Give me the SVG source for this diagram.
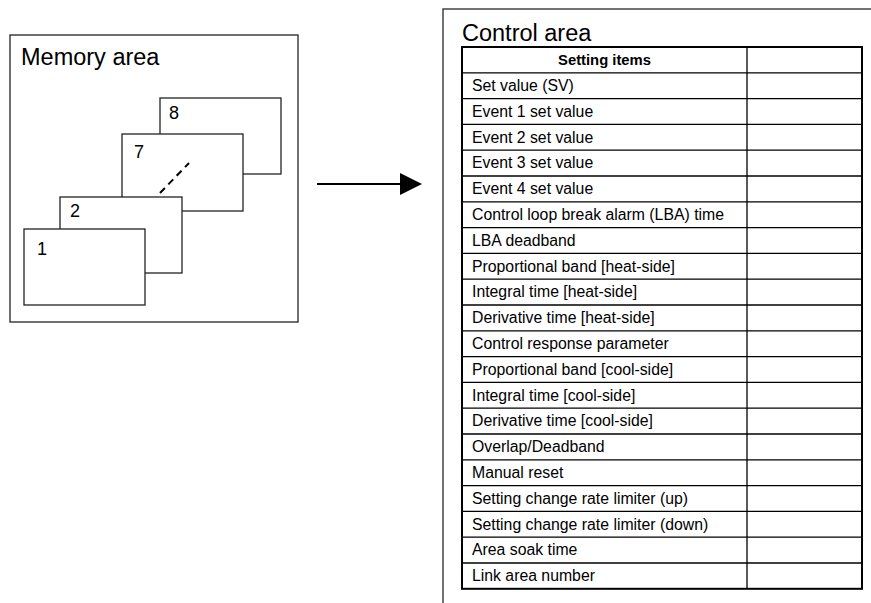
<svg xmlns="http://www.w3.org/2000/svg" width="871" height="603" viewBox="0 0 871 603">
<defs>
<style>
text{font-family:"Liberation Sans",Arial,sans-serif;fill:#000}
.title{font-size:23.5px}
.num{font-size:18px}
.item{font-size:15.8px}
.hdr{font-size:14.8px;font-weight:bold}
.page{fill:#fff;stroke:#222;stroke-width:1.3}
.grid{stroke:#000;stroke-width:1.3;fill:none}
</style>
<marker id="ah" viewBox="0 0 22 22" refX="0" refY="11" markerWidth="22" markerHeight="22" markerUnits="userSpaceOnUse" orient="auto">
<path d="M0,0 L22,11 L0,22 Z" fill="#000"/>
</marker>
</defs>
<rect width="871" height="603" fill="#fff"/>

<g id="memory-area">
<rect x="10" y="35" width="288" height="287" fill="#fff" stroke="#222" stroke-width="1.3"/>
<text class="title" x="21" y="65">Memory area</text>
</g>
<g id="page-8">
<rect class="page" x="160" y="98" width="121" height="76"/>
<text class="num" x="169" y="119">8</text>
</g>
<g id="page-7">
<rect class="page" x="122" y="134" width="121" height="77"/>
<text class="num" x="134" y="158">7</text>
<line x1="160" y1="193" x2="189" y2="163" stroke="#000" stroke-width="2" stroke-dasharray="7,5"/>
</g>
<g id="page-2">
<rect class="page" x="60" y="197" width="122" height="76"/>
<text class="num" x="70" y="217">2</text>
</g>
<g id="page-1">
<rect class="page" x="24" y="229" width="121" height="76"/>
<text class="num" x="37" y="255">1</text>
</g>

<g id="connectors">
<line x1="317" y1="184" x2="400" y2="184" stroke="#000" stroke-width="2" marker-end="url(#ah)"/>
</g>

<g id="control-area">
<polyline points="871,9 443,9 443,603" fill="none" stroke="#444" stroke-width="1.5"/>
<text class="title" x="462" y="41">Control area</text>
<g id="table">
<rect x="462" y="47" width="400" height="541.8" fill="#fff" stroke="#000" stroke-width="2"/>
<line class="grid" x1="747" y1="47" x2="747" y2="588.8"/>
<g class="grid">
<line x1="462" y1="72.8" x2="862" y2="72.8"/>
<line x1="462" y1="98.6" x2="862" y2="98.6"/>
<line x1="462" y1="124.4" x2="862" y2="124.4"/>
<line x1="462" y1="150.2" x2="862" y2="150.2"/>
<line x1="462" y1="176" x2="862" y2="176"/>
<line x1="462" y1="201.8" x2="862" y2="201.8"/>
<line x1="462" y1="227.6" x2="862" y2="227.6"/>
<line x1="462" y1="253.4" x2="862" y2="253.4"/>
<line x1="462" y1="279.2" x2="862" y2="279.2"/>
<line x1="462" y1="305" x2="862" y2="305"/>
<line x1="462" y1="330.8" x2="862" y2="330.8"/>
<line x1="462" y1="356.6" x2="862" y2="356.6"/>
<line x1="462" y1="382.4" x2="862" y2="382.4"/>
<line x1="462" y1="408.2" x2="862" y2="408.2"/>
<line x1="462" y1="434" x2="862" y2="434"/>
<line x1="462" y1="459.8" x2="862" y2="459.8"/>
<line x1="462" y1="485.6" x2="862" y2="485.6"/>
<line x1="462" y1="511.4" x2="862" y2="511.4"/>
<line x1="462" y1="537.2" x2="862" y2="537.2"/>
<line x1="462" y1="563" x2="862" y2="563"/>
</g>
<text class="hdr" x="604.5" y="65" text-anchor="middle">Setting items</text>
<text class="item" x="472" y="91">Set value (SV)</text>
<text class="item" x="472" y="116.8">Event 1 set value</text>
<text class="item" x="472" y="142.6">Event 2 set value</text>
<text class="item" x="472" y="168.4">Event 3 set value</text>
<text class="item" x="472" y="194.2">Event 4 set value</text>
<text class="item" x="472" y="220">Control loop break alarm (LBA) time</text>
<text class="item" x="472" y="245.8">LBA deadband</text>
<text class="item" x="472" y="271.6">Proportional band [heat-side]</text>
<text class="item" x="472" y="297.4">Integral time [heat-side]</text>
<text class="item" x="472" y="323.2">Derivative time [heat-side]</text>
<text class="item" x="472" y="349">Control response parameter</text>
<text class="item" x="472" y="374.8">Proportional band [cool-side]</text>
<text class="item" x="472" y="400.6">Integral time [cool-side]</text>
<text class="item" x="472" y="426.4">Derivative time [cool-side]</text>
<text class="item" x="472" y="452.2">Overlap/Deadband</text>
<text class="item" x="472" y="478">Manual reset</text>
<text class="item" x="472" y="503.8">Setting change rate limiter (up)</text>
<text class="item" x="472" y="529.6">Setting change rate limiter (down)</text>
<text class="item" x="472" y="555.4">Area soak time</text>
<text class="item" x="472" y="581.2">Link area number</text>
</g>
</g>
</svg>
